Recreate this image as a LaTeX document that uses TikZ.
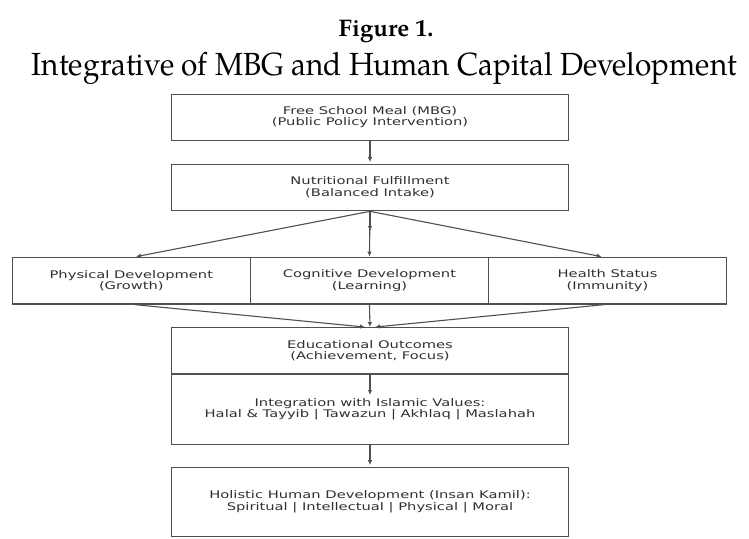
\documentclass[tikz,border=0pt]{standalone}
\usepackage{fontspec}
\usepackage{graphicx}
\usetikzlibrary{arrows.meta}
\newfontfamily\boxfont[FakeStretch=1.4]{DejaVu Sans}
\newfontfamily\titlefont{TeX Gyre Pagella}
\definecolor{linec}{HTML}{505050}
\definecolor{textc}{HTML}{303030}
\begin{document}
\begin{tikzpicture}[x=1pt,y=-1pt,
  box/.style={draw=linec, line width=1.3pt, rectangle, inner sep=0pt,
    font=\boxfont\fontsize{10.5}{11.6}\selectfont, text=textc, align=center},
  arr/.style={draw=linec, line width=1.1pt, -{Latex[length=5pt,width=4.5pt]}}]
\useasboundingbox (0,0) rectangle (749,538);
% titles
\node[anchor=base, inner sep=0pt, font=\titlefont\bfseries\fontsize{24}{24}\selectfont] (title) at (386,36) {Figure 1.};
\node[anchor=base, inner sep=0pt, font=\titlefont\fontsize{32}{32}\selectfont] (sub) at (384.5,75)
  {\resizebox{705pt}{\height}{Integrative of MBG and Human Capital Development}};
% boxes
\node[box, minimum width=396.6pt, minimum height=46pt] (b1) at (370,117.3)
  {Free School Meal (MBG)\\(Public Policy Intervention)};
\node[box, minimum width=396.6pt, minimum height=46.4pt] (b2) at (370,187.5)
  {Nutritional Fulfillment\\(Balanced Intake)};
\node[box, minimum width=238.1pt, minimum height=46.7pt] (phys) at (131.35,280.65)
  {Physical Development\\(Growth)};
\node[box, minimum width=238.1pt, minimum height=46.7pt] (cog) at (369.45,280.65)
  {Cognitive Development\\(Learning)};
\node[box, minimum width=238.1pt, minimum height=46.7pt] (health) at (607.55,280.65)
  {Health Status\\(Immunity)};
\node[box, minimum width=396.6pt, minimum height=46.3pt] (edu) at (370,350.85)
  {Educational Outcomes\\(Achievement, Focus)};
\node[box, minimum width=396.6pt, minimum height=70.3pt] (integ) at (370,409.15)
  {Integration with Islamic Values:\\Halal \& Tayyib | Tawazun | Akhlaq | Maslahah};
\node[box, minimum width=396.6pt, minimum height=69.4pt] (holi) at (370,502)
  {Holistic Human Development (Insan Kamil):\\Spiritual | Intellectual | Physical | Moral};
% helper coordinates
\coordinate (mid1) at (370,231);
\coordinate (mid2) at (370,395);
% arrows
\draw[arr, shorten >=1.5pt] (b1.south) -- (b2.north);
\draw[arr] (b2.south) -- ([xshift=4.65pt]phys.north);
\draw[arr] (b2.south) -- (mid1);
\draw[arr] (b2.south) -- (cog.north);
\draw[arr] (b2.south) -- ([xshift=-5.9pt]health.north);
\draw[arr] ([xshift=3.6pt]phys.south) -- ([xshift=-5pt]edu.north);
\draw[arr] (cog.south) -- (edu.north);
\draw[arr] ([xshift=-3.6pt]health.south) -- ([xshift=5pt]edu.north);
\draw[arr] (edu.south) -- (mid2);
\draw[arr, shorten >=1.5pt] (integ.south) -- (holi.north);
\end{tikzpicture}
\end{document}
